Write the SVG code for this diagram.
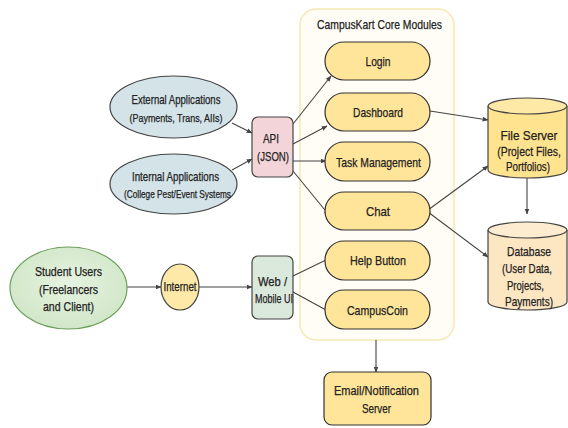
<svg xmlns="http://www.w3.org/2000/svg" width="568" height="428" viewBox="0 0 568 428">
  <defs>
    <marker id="arr" viewBox="0 0 10 10" refX="9" refY="5" markerWidth="6" markerHeight="6" orient="auto" markerUnits="userSpaceOnUse">
      <path d="M0,1 L10,5 L0,9 z" fill="#444"/>
    </marker>
    <radialGradient id="gGreen" cx="50%" cy="45%" r="60%">
      <stop offset="0" stop-color="#e6f2e0"/>
      <stop offset="1" stop-color="#cfe6c6"/>
    </radialGradient>
    <style>
      text { font-family: "Liberation Sans", Arial, sans-serif; fill: #222; stroke: #222; stroke-width: 0.25; text-anchor: middle; dominant-baseline: central; }
      .t12 { font-size: 13px; }
      .t11 { font-size: 12px; }
      .t10 { font-size: 11px; }
      .pill { fill: #ffe599; stroke: #333; stroke-width: 1.2; }
      .node { stroke: #444; stroke-width: 1.2; }
      .edge { fill: none; stroke: #444; stroke-width: 1.1; }
      .arrow { marker-end: url(#arr); }
    </style>
  </defs>

  <rect width="568" height="428" fill="#ffffff"/>

  <!-- module container -->
  <g id="core-modules">
    <rect x="300" y="9" width="154" height="331" rx="16" fill="#fffdf6" stroke="#f7e7b3" stroke-width="1.5"/>
    <text class="t12" x="379.5" y="24" textLength="125" lengthAdjust="spacingAndGlyphs">CampusKart Core Modules</text>
  </g>

  <!-- connectors -->
  <g id="connectors">
    <path class="edge arrow" d="M232,123 L252,133"/>
    <path class="edge arrow" d="M232,170 L252,159"/>
    <path class="edge arrow" d="M293,124 L331,76"/>
    <path class="edge arrow" d="M293,144 L327,126"/>
    <path class="edge arrow" d="M293,161 L326,161"/>
    <path class="edge arrow" d="M293,171 L329,215"/>
    <path class="edge arrow" d="M430,111 L488,120"/>
    <path class="edge arrow" d="M428,210 L488,166"/>
    <path class="edge arrow" d="M428,212 L488,257"/>
    <path class="edge arrow" d="M527,178 L527,214"/>
    <path class="edge arrow" d="M127,287 L161,287"/>
    <path class="edge arrow" d="M199,287 L252,287"/>
    <path class="edge" d="M293,276 L326,260"/>
    <path class="edge" d="M293,292 L326,310"/>
    <path class="edge arrow" d="M376,340 L376,372"/>
  </g>

  <g id="external-apps">
    <ellipse class="node" cx="173.5" cy="107" rx="63.5" ry="31" fill="#d3e3e8"/>
    <text class="t12" x="176" y="99" textLength="89" lengthAdjust="spacingAndGlyphs">External Applications</text>
    <text class="t10" x="176" y="118" textLength="93" lengthAdjust="spacingAndGlyphs">(Payments, Trans, AIIs)</text>
  </g>

  <g id="internal-apps">
    <ellipse class="node" cx="173.5" cy="184" rx="63.5" ry="30" fill="#d3e3e8"/>
    <text class="t12" x="175.5" y="176" textLength="87" lengthAdjust="spacingAndGlyphs">Internal Applications</text>
    <text class="t10" x="177.5" y="194" textLength="107" lengthAdjust="spacingAndGlyphs">(College Pest/Event Systems</text>
  </g>

  <g id="api">
    <rect class="node" x="252" y="117" width="41" height="60" rx="6" fill="#f3d4d8"/>
    <text class="t12" x="271" y="138" textLength="16" lengthAdjust="spacingAndGlyphs">API</text>
    <text class="t12" x="273" y="156" textLength="32" lengthAdjust="spacingAndGlyphs">(JSON)</text>
  </g>

  <g id="student-users">
    <ellipse cx="68.5" cy="288" rx="58.5" ry="41" fill="url(#gGreen)" stroke="#6d9f5c" stroke-width="1.2"/>
    <text class="t12" x="68.5" y="271" textLength="67" lengthAdjust="spacingAndGlyphs">Student Users</text>
    <text class="t12" x="68.5" y="289" textLength="59" lengthAdjust="spacingAndGlyphs">(Freelancers</text>
    <text class="t12" x="68.5" y="306" textLength="51" lengthAdjust="spacingAndGlyphs">and Client)</text>
  </g>

  <g id="internet">
    <ellipse class="node" cx="180" cy="287" rx="19" ry="23" fill="#ffe9a8"/>
    <text class="t11" x="180" y="287" textLength="33" lengthAdjust="spacingAndGlyphs">Internet</text>
  </g>

  <g id="web-ui">
    <rect class="node" x="252" y="256" width="41" height="63" rx="6" fill="#dbe8dc"/>
    <text class="t12" x="272.5" y="281" textLength="29" lengthAdjust="spacingAndGlyphs">Web /</text>
    <text class="t12" x="274" y="298" textLength="38" lengthAdjust="spacingAndGlyphs">Mobile UI</text>
  </g>

  <g id="login">
    <rect class="pill" x="325" y="42" width="105" height="38" rx="19"/>
    <text class="t12" x="378" y="61" textLength="25" lengthAdjust="spacingAndGlyphs">Login</text>
  </g>
  <g id="dashboard">
    <rect class="pill" x="325" y="93" width="105" height="38" rx="19"/>
    <text class="t12" x="378" y="112" textLength="50" lengthAdjust="spacingAndGlyphs">Dashboard</text>
  </g>
  <g id="task-management">
    <rect class="pill" x="325" y="142" width="105" height="39" rx="19"/>
    <text class="t12" x="378.5" y="162" textLength="85" lengthAdjust="spacingAndGlyphs">Task Management</text>
  </g>
  <g id="chat">
    <rect class="pill" x="325" y="192" width="105" height="38" rx="19"/>
    <text class="t12" x="378" y="211" textLength="24" lengthAdjust="spacingAndGlyphs">Chat</text>
  </g>
  <g id="help-button">
    <rect class="pill" x="325" y="241" width="105" height="39" rx="19"/>
    <text class="t12" x="378" y="260" textLength="56" lengthAdjust="spacingAndGlyphs">Help Button</text>
  </g>
  <g id="campuscoin">
    <rect class="pill" x="325" y="290" width="105" height="39" rx="19"/>
    <text class="t12" x="377.5" y="310" textLength="61" lengthAdjust="spacingAndGlyphs">CampusCoin</text>
  </g>

  <g id="email-server">
    <rect class="pill" x="324" y="372" width="107" height="53" rx="8"/>
    <text class="t12" x="376.5" y="390" textLength="85" lengthAdjust="spacingAndGlyphs">Email/Notification</text>
    <text class="t12" x="376.5" y="408" textLength="29" lengthAdjust="spacingAndGlyphs">Server</text>
  </g>

  <g id="file-server">
    <path class="node" d="M488,106 L488,170 A39.5,8 0 0 0 567,170 L567,106" fill="#ffe38f"/>
    <ellipse class="node" cx="527.5" cy="106" rx="39.5" ry="8" fill="#ffe9a6"/>
    <text class="t12" x="529" y="135" textLength="57" lengthAdjust="spacingAndGlyphs">File Server</text>
    <text class="t12" transform="translate(529,151) scale(0.8,1)" x="0" y="0">(Project Files,</text>
    <text class="t12" x="528" y="166" textLength="44" lengthAdjust="spacingAndGlyphs">Portfolios)</text>
  </g>

  <g id="database">
    <path class="node" d="M488,230 L488,302 A39.5,8 0 0 0 567,302 L567,230" fill="#fde6c2"/>
    <ellipse class="node" cx="527.5" cy="230" rx="39.5" ry="8" fill="#feecd0"/>
    <text class="t12" x="529" y="251" textLength="44" lengthAdjust="spacingAndGlyphs">Database</text>
    <text class="t12" x="527" y="268" textLength="50" lengthAdjust="spacingAndGlyphs">(User Data,</text>
    <text class="t12" x="525.5" y="285" textLength="37" lengthAdjust="spacingAndGlyphs">Projects,</text>
    <text class="t12" x="529" y="301" textLength="48" lengthAdjust="spacingAndGlyphs">Payments)</text>
  </g>
</svg>
